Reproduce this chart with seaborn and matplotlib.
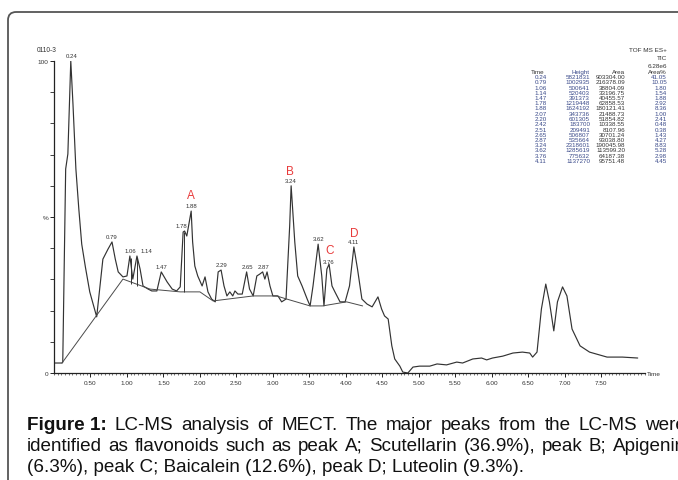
import matplotlib
matplotlib.use("Agg")
import matplotlib.pyplot as plt
import seaborn as sns
import pandas as pd
import numpy as np
from matplotlib.patches import FancyBboxPatch
from matplotlib.ticker import MultipleLocator

# ---------------- data ----------------
trace_time = [0.01, 0.11, 0.12, 0.16, 0.19, 0.23, 0.26, 0.30, 0.34, 0.38, 0.43, 0.49, 0.585,
              0.63, 0.67, 0.74, 0.795, 0.84, 0.88, 0.945, 1.00, 1.04, 1.08, 1.137, 1.18, 1.22,
              1.29, 1.34, 1.41, 1.47, 1.55, 1.62, 1.68, 1.73, 1.77, 1.79, 1.82, 1.88, 1.90,
              1.93, 1.97, 2.03, 2.07, 2.11, 2.16, 2.21, 2.25, 2.29, 2.33, 2.37, 2.41, 2.45,
              2.48, 2.52, 2.58, 2.64, 2.68, 2.73, 2.78, 2.82, 2.86, 2.89, 2.92, 2.96, 3.00,
              3.07, 3.12, 3.18, 3.23, 3.25, 3.30, 3.34, 3.40, 3.47, 3.51, 3.55, 3.62, 3.67,
              3.70, 3.74, 3.77, 3.81, 3.85, 3.92, 3.99, 4.05, 4.11, 4.16, 4.22, 4.29, 4.36,
              4.44, 4.49, 4.53, 4.58, 4.63, 4.67, 4.74, 4.78, 4.85, 4.92, 5.01, 5.15, 5.25,
              5.38, 5.52, 5.60, 5.74, 5.86, 5.93, 6.01, 6.15, 6.29, 6.42, 6.52, 6.56, 6.62,
              6.68, 6.74, 6.79, 6.85, 6.90, 6.97, 7.03, 7.10, 7.21, 7.34, 7.58, 7.79, 8.00]
trace_int = [3.2, 3.2, 3.5, 65.4, 70.2, 100, 86.2, 65.4, 52.6, 41.3, 34.0, 26.0, 18.0,
             27.9, 36.5, 39.7, 42.0, 36.5, 32.4, 30.8, 31.1, 37.5, 30.1, 37.5, 33.3, 27.9,
             26.9, 26.3, 26.3, 32.4, 29.2, 26.9, 26.3, 27.6, 45.2, 45.5, 43.9, 51.9, 42.0,
             34.3, 31.1, 27.9, 30.8, 26.0, 23.7, 22.8, 32.4, 33.0, 27.9, 24.7, 26.0, 24.7,
             26.3, 25.3, 25.3, 32.4, 26.9, 24.7, 31.1, 31.7, 32.4, 30.1, 32.4, 27.9, 24.7,
             24.7, 22.8, 23.7, 47.1, 60.0, 42.0, 31.1, 27.9, 23.7, 21.5, 27.9, 41.3, 31.1,
             21.5, 33.3, 34.9, 27.9, 26.0, 22.8, 22.8, 27.9, 40.4, 33.3, 23.7, 22.1, 21.2,
             24.4, 20.5, 18.3, 17.3, 8.7, 4.5, 2.2, 0.3, 0.0, 1.9, 2.2, 2.2, 2.9,
             2.6, 3.5, 3.2, 4.5, 4.8, 4.2, 4.8, 5.4, 6.4, 6.7, 6.4, 5.1, 6.7,
             20.5, 28.5, 22.8, 13.5, 22.8, 27.6, 24.7, 14.1, 8.7, 6.7, 5.1, 5.1, 4.8]

base_time = [0.11, 0.945, 1.315, 1.73, 2.00, 2.18, 2.73, 3.05, 3.19, 3.51, 3.68, 4.01, 4.23]
base_int = [3.2, 30.1, 26.9, 26.0, 26.0, 23.1, 24.7, 24.7, 23.7, 21.5, 21.5, 22.8, 21.5]

drop_time = [1.06, 1.14, 1.78]
drop_top = [37.0, 37.0, 45.2]
drop_bot = [28.5, 28.0, 26.0]

peak_labels = ["0.24", "0.79", "1.06", "1.14", "1.47", "1.78", "1.88", "2.29", "2.65",
               "2.87", "3.24", "3.62", "3.76", "4.11"]
peak_x = [0.24, 0.79, 1.05, 1.27, 1.47, 1.74, 1.88, 2.29, 2.65, 2.87, 3.24, 3.62, 3.77, 4.11]
peak_y = [100, 42.0, 37.5, 37.5, 32.4, 45.5, 51.9, 33.0, 32.4, 32.4, 60.0, 41.3, 33.8, 40.4]

letters = ["A", "B", "C", "D"]
letter_x = [1.88, 3.24, 3.78, 4.11]
letter_y = [55.0, 62.8, 37.6, 42.8]

tbl_time = ["0.24", "0.79", "1.06", "1.14", "1.47", "1.78", "1.88", "2.07", "2.20", "2.42",
            "2.51", "2.65", "2.87", "3.24", "3.62", "3.76", "4.11"]
tbl_height = ["5821831", "1002935", "500641", "520403", "391373", "1219448", "1624192",
              "343736", "601305", "183700", "209491", "506807", "535664", "2318601",
              "1285619", "775632", "1137270"]
tbl_area = ["903304.00", "216378.09", "38804.09", "33196.75", "40455.57", "62858.53",
            "180121.41", "21488.73", "51854.82", "10338.55", "8107.96", "30701.24",
            "93038.80", "190045.98", "113599.20", "64187.38", "95751.48"]
tbl_pct = ["41.05", "10.05", "1.80", "1.54", "1.88", "2.92", "8.36", "1.00", "2.41", "0.48",
           "0.38", "1.43", "4.27", "8.83", "5.28", "2.98", "4.45"]

# ---------------- figure ----------------
sns.set_theme(style="white")
plt.rcParams['font.family'] = ['Liberation Sans', 'DejaVu Sans']

W, H = 678, 481
fig = plt.figure(figsize=(W / 100, H / 100), dpi=100)

def fx(px):
    return px / W

def fy(py):
    return 1 - py / H

ax = fig.add_axes([fx(54), fy(374), fx(645) - fx(54), fy(62) - fy(374)])
ax.set_facecolor("none")

df = pd.DataFrame({"t": trace_time, "i": trace_int})
sns.lineplot(data=df, x="t", y="i", ax=ax, sort=False, color="#333333", lw=0.85)
dfb = pd.DataFrame({"t": base_time, "i": base_int})
sns.lineplot(data=dfb, x="t", y="i", ax=ax, sort=False, color="#4a4a4a", lw=0.7)
ax.vlines(drop_time, drop_bot, drop_top, color="#333333", lw=0.7)

ax.set_xlim(0, 8.1)
ax.set_ylim(0, 100)
for s in ["top", "right"]:
    ax.spines[s].set_visible(False)
for s in ["left", "bottom"]:
    ax.spines[s].set_color("#222222")
    ax.spines[s].set_linewidth(0.9)

ax.set_xticks(np.arange(0.5, 7.51, 0.5))
ax.set_xticklabels([f"{v:.2f}" for v in np.arange(0.5, 7.51, 0.5)])
ax.xaxis.set_minor_locator(MultipleLocator(0.05))
ax.set_yticks([0, 50, 100])
ax.set_yticklabels(["0", "%", "100"])
ax.yaxis.set_minor_locator(MultipleLocator(10))
ax.tick_params(axis="x", which="major", length=3, width=0.7, labelsize=4.6, pad=2,
               color="#222222", labelcolor="#333333", bottom=True)
ax.tick_params(axis="x", which="minor", length=1.5, width=0.5, color="#444444", bottom=True)
ax.tick_params(axis="y", which="major", length=3, width=0.7, labelsize=4.6, pad=1,
               color="#222222", labelcolor="#333333", left=True)
ax.tick_params(axis="y", which="minor", length=3, width=0.6, color="#222222", left=True)
ax.set_xlabel("")
ax.set_ylabel("")

ax.text(8.13, 0, "Time", fontsize=4.6, color="#333333", va="center", ha="left",
        clip_on=False)

for lab, x, y in zip(peak_labels, peak_x, peak_y):
    ax.text(x, y + 1.0, lab, fontsize=4.3, color="#333333", ha="center", va="bottom")
for lab, x, y in zip(letters, letter_x, letter_y):
    ax.text(x, y, lab, fontsize=8.5, color="#e83a3a", ha="center", va="bottom")

# top-left label
fig.text(fx(37), fy(50), "0110-3", fontsize=4.8, color="#333333", va="center", ha="left")

# header at top right
fig.text(fx(667), fy(51), "TOF MS ES+", fontsize=4.6, color="#333333", ha="right", va="center")
fig.text(fx(667), fy(58), "TIC", fontsize=4.6, color="#333333", ha="right", va="center")
fig.text(fx(667), fy(66), "6.28e6", fontsize=4.6, color="#333333", ha="right", va="center")

hdr_y = 72.5
fig.text(fx(531), fy(hdr_y), "Time", fontsize=4.5, color="#333333", ha="left", va="center")
fig.text(fx(590), fy(hdr_y), "Height", fontsize=4.5, color="#3a4a8a", ha="right", va="center")
fig.text(fx(625), fy(hdr_y), "Area", fontsize=4.5, color="#333333", ha="right", va="center")
fig.text(fx(667), fy(hdr_y), "Area%", fontsize=4.5, color="#333333", ha="right", va="center")
row_y0 = 77.5
row_dy = 5.25
for k in range(len(tbl_time)):
    yy = fy(row_y0 + k * row_dy)
    fig.text(fx(547), yy, tbl_time[k], fontsize=4.5, color="#3a4a8a", ha="right", va="center")
    fig.text(fx(590), yy, tbl_height[k], fontsize=4.5, color="#3a4a8a", ha="right", va="center")
    fig.text(fx(625), yy, tbl_area[k], fontsize=4.5, color="#333333", ha="right", va="center")
    fig.text(fx(667), yy, tbl_pct[k], fontsize=4.5, color="#3a4a8a", ha="right", va="center")

# frame with rounded corner
frame = FancyBboxPatch((fx(8), fy(520)), fx(720) - fx(8), fy(13) - fy(520),
                       boxstyle="round,pad=0,rounding_size=0.012",
                       transform=fig.transFigure, fill=False, ec="#555555", lw=1.3,
                       mutation_aspect=W / H, clip_on=False)
fig.add_artist(frame)

# caption (justified paragraph; first two lines stretched to the same right edge)
cap_lines = [
    "LC-MS analysis of MECT. The major peaks from the LC-MS were",
    "identified as flavonoids such as peak A; Scutellarin (36.9%), peak B; Apigenin",
    "(6.3%), peak C; Baicalein (12.6%), peak D; Luteolin (9.3%).",
]
cap_size = 13.6
cap_left = 27
cap_right = 686
fig.canvas.draw()
renderer = fig.canvas.get_renderer()


def width_of(s, weight="normal"):
    t = fig.text(0, 0, s, fontsize=cap_size, fontweight=weight)
    w = t.get_window_extent(renderer=renderer).width
    t.remove()
    return w


def draw_justified(words, x0, x1, y, first_bold=None):
    items = []
    if first_bold is not None:
        items.append((first_bold, "bold"))
    items += [(w, "normal") for w in words]
    widths = [width_of(s, wt) for s, wt in items]
    gap = (x1 - x0 - sum(widths)) / (len(items) - 1)
    x = x0
    for (s, wt), w in zip(items, widths):
        fig.text(fx(x), fy(y), s, fontsize=cap_size, fontweight=wt, color="#111111",
                 va="baseline", ha="left")
        x += w + gap


draw_justified(cap_lines[0].split(), cap_left, cap_right, 430, first_bold="Figure 1:")
draw_justified(cap_lines[1].split(), cap_left, cap_right, 451)
fig.text(fx(cap_left), fy(472), cap_lines[2], fontsize=cap_size, color="#111111",
         va="baseline", ha="left")

fig.savefig("out.png", dpi=100)
